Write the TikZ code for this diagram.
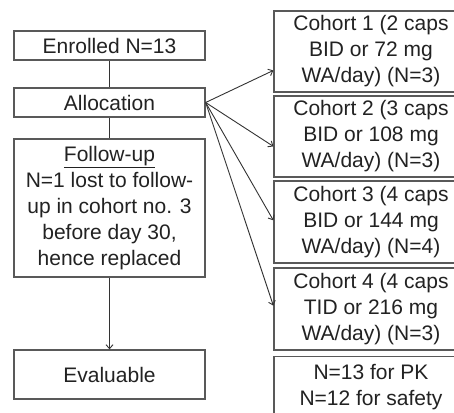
\documentclass[tikz,border=0pt]{standalone}
\usepackage{fontspec}
\setmainfont{Liberation Sans}
\usepackage{tikz}
\usepackage{xcolor}
\usetikzlibrary{arrows.meta,calc}
\definecolor{BoxGray}{HTML}{595959}
\definecolor{LineGray}{HTML}{333333}
\definecolor{TextGray}{HTML}{222222}

\begin{document}
\begin{tikzpicture}[x=1pt,y=-1pt,
    box/.style={draw=BoxGray,line width=1.3pt,fill=white,text=TextGray,align=center,
      inner sep=0pt,font=\fontsize{21}{26}\selectfont},
    leftbox/.style={box,minimum width=191pt},
    cohortbox/.style={box,minimum width=194pt,minimum height=81pt},
    link/.style={LineGray,line width=0.9pt},
    arr/.style={link,-{Straight Barb[length=4pt,width=7pt]}}]
  \useasboundingbox (0,0) rectangle (454,412);
  % left column
  \node[leftbox,minimum height=29pt] (enrolled) at (109.5,45.5) {Enrolled N=13};
  \node[leftbox,minimum height=29pt] (alloc) at (109.5,102.5) {Allocation};
  \node[leftbox,minimum height=138pt] (follow) at (109.5,208) {\underline{Follow-up}\\N=1 lost to follow-\\up in cohort no. 3\\before day 30,\\hence replaced};
  \node[leftbox,minimum height=49pt] (eval) at (109.5,374.5) {Evaluable};
  % right column
  \node[cohortbox] (c1) at (371,51.5) {Cohort 1 (2 caps\\BID or 72 mg\\WA/day) (N=3)};
  \node[cohortbox] (c2) at (371,136.5) {Cohort 2 (3 caps\\BID or 108 mg\\WA/day) (N=3)};
  \node[cohortbox,minimum height=82pt] (c3) at (371,222) {Cohort 3 (4 caps\\BID or 144 mg\\WA/day) (N=4)};
  \node[cohortbox,minimum height=82pt] (c4) at (371,309) {Cohort 4 (4 caps\\TID or 216 mg\\WA/day) (N=3)};
  \node[cohortbox,minimum height=82pt,anchor=north] (pk) at (371,356) {N=13 for PK\\N=12 for safety\\\mbox{}};
  % connectors
  \draw[link] (enrolled) -- (alloc);
  \draw[link] (alloc) -- (follow);
  \draw[arr] (follow) -- (eval);
  \draw[arr] (alloc.east) -- ($(c1.north west)!0.73!(c1.south west)$);
  \draw[arr] (alloc.east) -- ($(c2.north west)!0.62!(c2.south west)$);
  \draw[arr] (alloc.east) -- ($(c3.north west)!0.48!(c3.south west)$);
  \draw[arr] (alloc.east) -- ($(c4.north west)!0.46!(c4.south west)$);
\end{tikzpicture}
\end{document}
